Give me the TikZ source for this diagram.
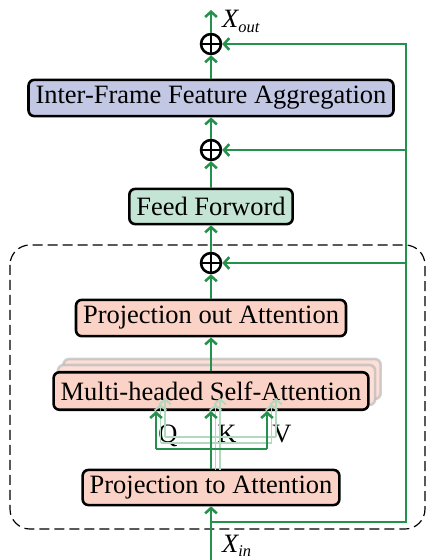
\documentclass[tikz,border=0pt]{standalone}
\usepackage{fontspec}
\setmainfont{Liberation Serif}
\usetikzlibrary{arrows.meta,backgrounds}
\definecolor{linkgreen}{RGB}{38,145,76}
\definecolor{aggblue}{RGB}{194,200,228}
\definecolor{ffgreen}{RGB}{196,229,214}
\definecolor{attpink}{RGB}{251,211,198}
\tikzset{
  block/.style={draw,line width=2.2pt,rounded corners=5pt,minimum height=31pt,
    inner xsep=6pt,font=\fontsize{22.6}{27}\selectfont},
  addnode/.style={circle,draw,line width=2.2pt,minimum size=17pt,inner sep=0pt,
    path picture={\draw[line width=2pt]
      (path picture bounding box.north) -- (path picture bounding box.south)
      (path picture bounding box.west) -- (path picture bounding box.east);}},
  lab/.style={inner sep=0pt,font=\fontsize{22.6}{27}\selectfont},
}
\begin{document}
\begin{tikzpicture}[x=0.03cm,y=-0.03cm,
  flow/.style={linkgreen,line width=2.2pt,-{Straight Barb[length=4.5pt,width=10pt]}},
  link/.style={linkgreen,line width=2.2pt},
  ghostflow/.style={linkgreen!35,line width=1.6pt,-{Straight Barb[length=4.5pt,width=10pt]}},
  ghostlink/.style={linkgreen!35,line width=1.6pt}]
   \useasboundingbox (0,0) rectangle (426,560);

   % dashed attention block
   \draw[black,line width=1pt,dash pattern=on 8.5pt off 4.3pt,rounded corners=17pt]
      (10,245) rectangle (425,529);

   \node[addnode] (add1) at (211,44) {};
   \node[addnode] (add2) at (211,150) {};
   \node[addnode] (add3) at (211,263) {};
   \node[block,fill=aggblue] (ifa) at (211,98) {Inter-Frame Feature Aggregation};
   \node[block,fill=ffgreen,minimum height=30pt] (ff) at (211,206.5) {Feed Forword};
   \node[block,fill=attpink] (pout) at (211,318) {Projection out Attention};
   \node[block,fill=attpink,minimum height=32pt] (mhsa) at (211,391) {Multi-headed Self-Attention};
   \node[block,fill=attpink,minimum height=30pt] (pin) at (211,487.5) {Projection to Attention};

   \coordinate (xin) at (211,560);
   \coordinate (xout) at (211,10);
   \coordinate (tap) at (211,522);
   \coordinate (rail) at (406,522);
   \coordinate (qb) at (156,449);
   \coordinate (kb) at (211,449);
   \coordinate (vb) at (267,449);

   % ghost heads behind the main one
   \begin{scope}[on background layer]
      \foreach \i in {2,1}
         \draw[line width=2.2pt,rounded corners=5pt,draw=black!30,fill=attpink!70,
               draw opacity=.6]
            ([xshift=5.5*\i*0.03cm,yshift=6*\i*0.03cm]mhsa.south west)
            rectangle ([xshift=5.5*\i*0.03cm,yshift=6*\i*0.03cm]mhsa.north east);
   \end{scope}

   \node[lab,anchor=base west] (xoutlab) at (222,28)
      {\itshape X\raisebox{-4pt}{\fontsize{14}{14}\selectfont out}};
   \node[lab,anchor=base west] (xinlab) at (222,552)
      {\itshape X\raisebox{-4pt}{\fontsize{14}{14}\selectfont in}};
   \node[lab,anchor=base] (q) at (168,442) {Q};
   \node[lab,anchor=base] (k) at (227,442) {K};
   \node[lab,anchor=base] (v) at (282,442) {V};

   \foreach \i in {1,2} {
      \draw[ghostlink] (211+4.5*\i,470) -- (211+4.5*\i,449-6*\i);
      \draw[ghostlink] (156+4.5*\i,449-6*\i) -- (267+4.5*\i,449-6*\i);
      \foreach \c in {156,211,267}
         \draw[ghostflow] (\c+4.5*\i,449-6*\i) -- (\c+4.5*\i,410-6*\i);
   }

   \draw[link] (pin) -- (kb);
   \draw[link] (qb) -- (vb);
   \draw[flow] (qb) -- (qb |- mhsa.south);
   \draw[flow] (kb) -- (mhsa);
   \draw[flow] (vb) -- (vb |- mhsa.south);
   \draw[flow] (mhsa) -- (pout);
   \draw[flow] (pout) -- (add3);
   \draw[flow] (add3) -- (ff);
   \draw[flow] (ff) -- (add2);
   \draw[flow] (add2) -- (ifa);
   \draw[flow] (ifa) -- (add1);
   \draw[flow] (add1) -- (xout);
   \draw[flow] (xin) -- (pin);
   \draw[flow] (tap) -- (rail) |- (add1);
   \draw[flow] (rail |- add2) -- (add2);
   \draw[flow] (rail |- add3) -- (add3);
\end{tikzpicture}
\end{document}
